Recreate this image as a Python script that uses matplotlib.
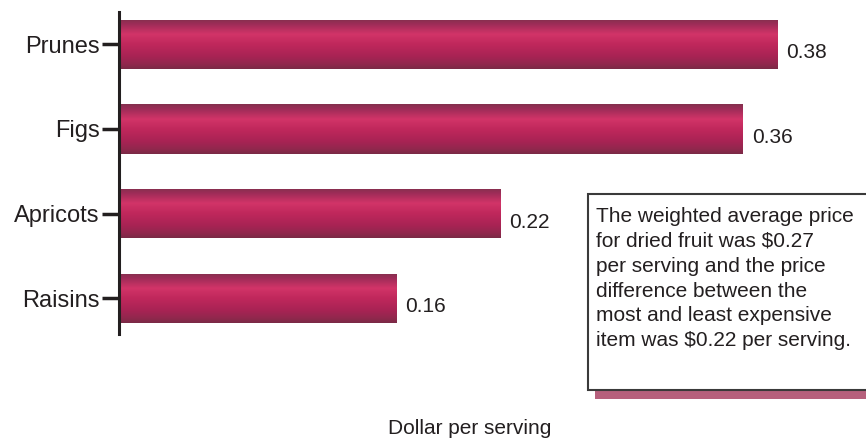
import numpy as np
import matplotlib
matplotlib.use("Agg")
from matplotlib import pyplot as plt
from matplotlib.colors import LinearSegmentedColormap
from matplotlib.patches import Rectangle

plt.rcParams['font.family'] = ['Liberation Sans', 'DejaVu Sans']

fruits = ['Raisins', 'Apricots', 'Figs', 'Prunes']
prices = [0.16, 0.22, 0.36, 0.38]
value_labels = ['0.16', '0.22', '0.36', '0.38']
note = ("The weighted average price\n"
        "for dried fruit was $0.27\n"
        "per serving and the price\n"
        "difference between the\n"
        "most and least expensive\n"
        "item was $0.22 per serving.")

W, H = 866, 443
fig = plt.figure(figsize=(W / 100, H / 100), dpi=100)
ax = fig.add_axes([119 / W, 1 - 334 / H, (847 - 119) / W, (334 - 12) / H])

# shading of the bars, top to bottom
bar_cmap = LinearSegmentedColormap.from_list('bar', [
    (0.0, '#84304e'),
    (0.1, '#9e2c58'),
    (0.3, '#d23468'),
    (0.5, '#c0285c'),
    (0.75, '#a82354'),
    (0.92, '#8e284c'),
    (1.0, '#7a2a46'),
])
grad = np.linspace(0, 1, 200).reshape(-1, 1)

y = np.arange(len(fruits))
bars = ax.barh(y, prices, height=0.58, color='none', edgecolor='none')
for b, lab in zip(bars, value_labels):
    x0, y0 = b.get_x(), b.get_y()
    w, h = b.get_width(), b.get_height()
    im = ax.imshow(grad, cmap=bar_cmap, aspect='auto', origin='upper',
                   extent=[x0, x0 + w, y0, y0 + h], zorder=2)
    im.set_clip_path(b)
    ax.text(x0 + w + 0.005, y0 + h / 2 - 0.1, lab, fontsize=15,
            va='center', ha='left', color='#231f20')

ax.set_xlim(0, 0.42)
ax.set_ylim(-0.42, 3.38)
ax.set_yticks(y)
ax.set_yticklabels(fruits, fontsize=17, color='#231f20')
ax.tick_params(axis='y', length=12, width=2.5, color='#231f20', pad=2)
ax.set_xticks([])
for s in ['top', 'right', 'bottom']:
    ax.spines[s].set_visible(False)
ax.spines['left'].set_linewidth(2.2)
ax.spines['left'].set_color('#231f20')

fig.text(470 / W, 1 - 428 / H, 'Dollar per serving', fontsize=15,
         ha='center', va='center', color='#231f20')

# note box with shadow
shadow = Rectangle((595 / W, 1 - 399 / H), 300 / W, 12 / H,
                   transform=fig.transFigure, facecolor='#b6607c',
                   edgecolor='none', zorder=1)
box = Rectangle((588 / W, 1 - 390 / H), 300 / W, 196 / H,
                transform=fig.transFigure, facecolor='white',
                edgecolor='#3a3a3a', linewidth=1.5, zorder=2)
fig.patches.extend([shadow, box])
fig.text(596 / W, 1 - 207 / H, note, fontsize=15, ha='left', va='top',
         linespacing=1.39, color='#231f20', zorder=3)

fig.savefig('out.png', dpi=100)
